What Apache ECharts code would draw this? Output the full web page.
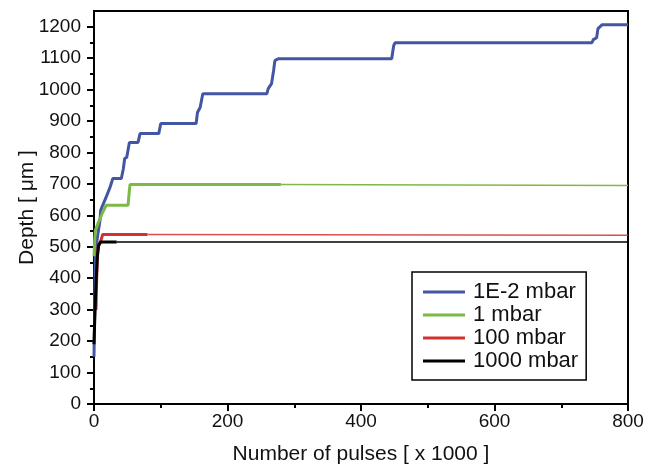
<!DOCTYPE html>
<html>
<head>
<meta charset="utf-8">
<script src="https://cdn.jsdelivr.net/npm/echarts@6/dist/echarts.min.js"></script>
<style>
  html, body { margin: 0; padding: 0; background: #fff; }
  #chart { width: 655px; height: 465px; }
</style>
</head>
<body>
<div id="chart"></div>
<script>
// [pulses x1000, depth um]
const series1E2 = [[0,150],[1,300],[2,457],[3,498],[6,543],[9,584],[10,616],[13,632],[18,657],[24,689],[26,702],[28,717],[41,717],[44,749],[46,781],[49,784],[53,832],[66,832],[69,860],[97,860],[100,892],[153,892],[155,927],[159,943],[163,987],[259,987],[261,1003],[266,1019],[269,1060],[271,1092],[276,1098],[446,1098],[449,1140],[451,1149],[746,1149],[748,1159],[753,1165],[755,1194],[761,1206],[800,1206]]
const series1 = [[0,470],[1,520],[2,552],[6,575],[10,594],[13,610],[16,622],[18,632],[51,632],[53,680],[54,698],[280,698]]
const series1Tail = [[280,698],[800,695]]
const series100 = [[3,300],[4,400],[5,460],[6,498],[9,514],[10.5,521],[13,539],[80,539]]
const series100Tail = [[80,539],[800,537]]
const series1000 = [[0,190],[1,260],[3,380],[5,470],[7,505],[10,515],[34,515]]
const series1000Tail = [[34,515],[800,515]]

const legendNames = ['1E-2 mbar', '1 mbar', '100 mbar', '1000 mbar']
const yMajorTicks = [0,100,200,300,400,500,600,700,800,900,1000,1100,1200]
const yMinorTicks = [50,150,250,350,450,550,650,750,850,950,1050,1150]

const BLUE = '#4356a4'
const GREEN = '#7dba45'
const RED = '#d2322f'
const BLACK = '#000'
const FONT = "'Liberation Sans', Arial, sans-serif"

const chart = echarts.init(document.getElementById('chart'))

function line(name, data, color, width, opacity) {
  return {
    name, type: 'line', data, showSymbol: false, symbol: 'none',
    lineStyle: { color, width, opacity: opacity || 1 },
    itemStyle: { color },
    silent: true
  }
}

chart.setOption({
  animation: false,
  backgroundColor: '#fff',
  textStyle: { fontFamily: FONT },
  grid: {
    left: 94, right: 27, top: 11, bottom: 61,
    outerBoundsMode: 'none', containLabel: false,
    show: true, borderColor: '#000', borderWidth: 2
  },
  legend: {
    data: legendNames,
    orient: 'vertical',
    left: 412, top: 272,
    padding: [9, 8, 8, 11],
    itemWidth: 42, itemHeight: 3, itemGap: 1,
    icon: 'rect',
    borderColor: '#000', borderWidth: 1.5,
    textStyle: { fontSize: 22, color: '#111', fontFamily: FONT, padding: [0, 0, 0, 3] }
  },
  xAxis: {
    type: 'value', min: 0, max: 800, interval: 200,
    name: 'Number of pulses [ x 1000 ]',
    nameLocation: 'middle', nameGap: 40, nameMoveOverlap: false,
    nameTextStyle: { fontSize: 21, color: '#111', fontFamily: FONT },
    axisLine: { show: true, lineStyle: { color: '#000', width: 2 } },
    axisTick: { show: true, length: 7, lineStyle: { color: '#000', width: 2 } },
    minorTick: { show: true, splitNumber: 2, length: 4, lineStyle: { color: '#000', width: 2 } },
    axisLabel: { fontSize: 19, color: '#111', margin: 8, fontFamily: FONT },
    splitLine: { show: false }
  },
  yAxis: [
    {
      type: 'value', min: 0, max: 1250, position: 'left',
      name: 'Depth [ μm ]',
      nameLocation: 'middle', nameGap: 56, nameMoveOverlap: false,
      nameTextStyle: { fontSize: 21, color: '#111', fontFamily: FONT },
      axisLine: { show: true, lineStyle: { color: '#000', width: 2 } },
      axisTick: { show: true, length: 7, customValues: yMajorTicks, lineStyle: { color: '#000', width: 2 } },
      axisLabel: {
        fontSize: 19, color: '#111', margin: 13, customValues: yMajorTicks, fontFamily: FONT,
        formatter: (v) => String(v)
      },
      splitLine: { show: false }
    },
    {
      type: 'value', min: 0, max: 1250, position: 'left',
      axisLine: { show: false },
      axisTick: { show: true, length: 4, customValues: yMinorTicks, lineStyle: { color: '#000', width: 2 } },
      axisLabel: { show: false },
      splitLine: { show: false }
    }
  ],
  series: [
    line('1000 mbar', series1000Tail, BLACK, 1.5),
    line('100 mbar', series100Tail, RED, 1.5, 0.85),
    line('1 mbar', series1Tail, GREEN, 1.5),
    line('1E-2 mbar', series1E2, BLUE, 3),
    line('1 mbar', series1, GREEN, 3),
    line('100 mbar', series100, RED, 3),
    line('1000 mbar', series1000, BLACK, 3)
  ]
})
</script>
</body>
</html>
